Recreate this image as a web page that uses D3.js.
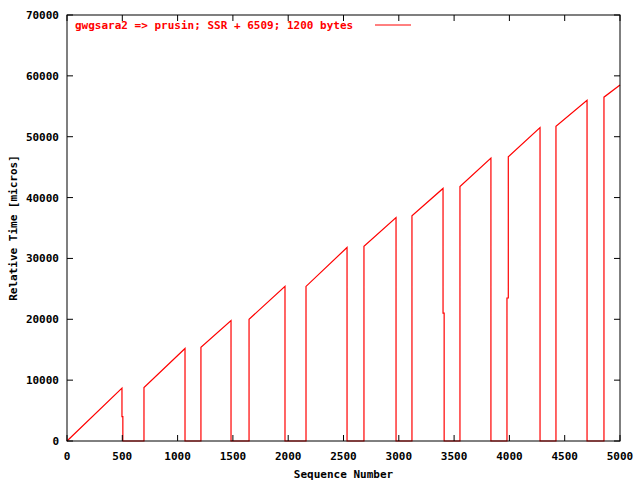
<!DOCTYPE html>
<html><head><meta charset="utf-8">
<script src="https://cdn.jsdelivr.net/npm/d3@7"></script>
<style>body{margin:0;background:#fff}text{font-family:"DejaVu Sans Mono",monospace;font-weight:bold;font-size:11px}</style>
</head><body><svg id="c" width="640" height="480"></svg>
<script>
const segStartSeq=[0,696,1211,1646,2161,2685,3119,3553,3990,4421,4855];
const segStartVal=[0,8800,15400,20000,25400,32000,37000,41800,46700,51700,56500];
const segEndSeq=[497,1067,1483,1971,2532,2975,3400,3833,4277,4702,5000];
const segEndVal=[8700,15200,19800,25400,31800,36700,41500,46500,51500,56000,58500];
// intermediate partial drops/rises: [seq, value]
const midDrop={0:[505,4000],6:[3410,21000]};
const midRise={8:[3978,23500]};
const xTicks=[0,500,1000,1500,2000,2500,3000,3500,4000,4500,5000];
const yTicks=[0,10000,20000,30000,40000,50000,60000,70000];
const title="gwgsara2 => prusin; SSR + 6509; 1200 bytes";

const svg=d3.select("#c");
const L=67,R=620,T=15,B=441;
const x=d3.scaleLinear().domain([0,5000]).range([L,R]);
const y=d3.scaleLinear().domain([0,70000]).range([B,T]);
// build path points
const pts=[];
segStartSeq.forEach((s,i)=>{
  if(midRise[i]){pts.push([midRise[i][0],0]);pts.push([midRise[i][0],midRise[i][1]]);pts.push([s,midRise[i][1]]);}
  else if(i>0) pts.push([s,0]);
  pts.push([s,segStartVal[i]]);
  pts.push([segEndSeq[i],segEndVal[i]]);
  if(i<segStartSeq.length-1){
    if(midDrop[i]){pts.push([segEndSeq[i],midDrop[i][1]]);pts.push([midDrop[i][0],midDrop[i][1]]);pts.push([midDrop[i][0],0]);}
    else pts.push([segEndSeq[i],0]);
  }
});
svg.append("path").attr("d",d3.line().x(d=>x(d[0])).y(d=>y(d[1]))(pts))
  .attr("fill","none").attr("stroke","#f00").attr("stroke-width",1.2);
const g=svg.append("g");
g.append("rect").attr("x",L).attr("y",T).attr("width",R-L).attr("height",B-T).attr("fill","none").attr("stroke","#000");
xTicks.forEach(v=>{
  g.append("line").attr("x1",x(v)).attr("x2",x(v)).attr("y1",B).attr("y2",B-6).attr("stroke","#000");
  g.append("line").attr("x1",x(v)).attr("x2",x(v)).attr("y1",T).attr("y2",T+6).attr("stroke","#000");
  g.append("text").attr("x",x(v)).attr("y",B+19).attr("text-anchor","middle").text(v);
});
yTicks.forEach(v=>{
  g.append("line").attr("x1",L).attr("x2",L+6).attr("y1",y(v)).attr("y2",y(v)).attr("stroke","#000");
  g.append("line").attr("x1",R).attr("x2",R-6).attr("y1",y(v)).attr("y2",y(v)).attr("stroke","#000");
  g.append("text").attr("x",L-8).attr("y",y(v)+4).attr("text-anchor","end").text(v);
});
g.append("text").attr("x",(L+R)/2).attr("y",478).attr("text-anchor","middle").text("Sequence Number");
g.append("text").attr("transform","translate(17,228) rotate(-90)").attr("text-anchor","middle").text("Relative Time [micros]");
g.append("text").attr("x",75).attr("y",29).attr("fill","#f00").text(title);
g.append("line").attr("x1",375).attr("x2",411).attr("y1",25).attr("y2",25).attr("stroke","#f00");
</script></body></html>
